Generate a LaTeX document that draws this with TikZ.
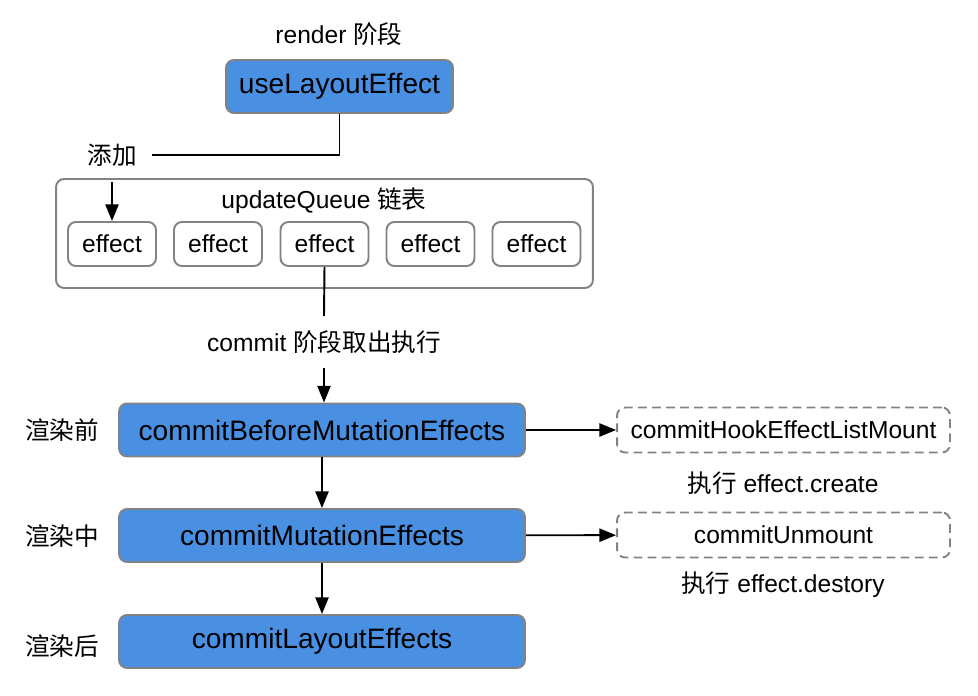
\documentclass[tikz,border=0pt]{standalone}
\usepackage{fontspec}
\setmainfont{Liberation Sans}
\newfontfamily\cjk{Noto Sans CJK SC}
\usetikzlibrary{arrows.meta}

\definecolor{stageblue}{HTML}{4A90E2}
\definecolor{edgegray}{HTML}{828282}

\begin{document}
\begin{tikzpicture}[x=0.02cm, y=-0.02cm,
    stagebox/.style={draw=edgegray, line width=1.1pt, fill=stageblue, rounded corners=0.16cm,
      inner sep=0pt, minimum height=1.06cm, font=\fontsize{16}{19}\selectfont},
    effectbox/.style={draw=edgegray, line width=1.1pt, rounded corners=0.16cm,
      inner sep=0pt, minimum width=1.76cm, minimum height=0.88cm, font=\fontsize{14}{16}\selectfont},
    hookbox/.style={draw=edgegray, dash pattern=on 5pt off 3pt, line width=1.1pt, rounded corners=0.16cm,
      inner sep=0pt, minimum width=6.66cm, minimum height=0.9cm, font=\fontsize{14}{16}\selectfont},
    plaintext/.style={font=\fontsize{14}{16}\selectfont},
    link/.style={line width=1.1pt, -{Triangle[length=9.5pt,width=7.5pt]}}]
  \useasboundingbox (0,0) rectangle (978,696);

  % render stage
  \node[plaintext] (render) at (339,34) {render {\cjk 阶段}};
  \node[stagebox, minimum width=4.54cm] (ule) at (339.5,86.5) {useLayoutEffect};
  \node[plaintext, inner sep=0.3cm] (add) at (112,155) {\cjk 添加};

  % update queue
  \node[draw=edgegray, line width=1.1pt, rounded corners=0.16cm, minimum width=10.74cm,
    minimum height=2.18cm] (queue) at (324.5,233.5) {};
  \node[plaintext] (qtitle) at (324,201) {updateQueue {\cjk 链表}};
  \node[effectbox] (e1) at (112,244) {effect};
  \node[effectbox] (e2) at (218,244) {effect};
  \node[effectbox] (e3) at (324.5,244) {effect};
  \node[effectbox] (e4) at (430.5,244) {effect};
  \node[effectbox] (e5) at (536.5,244) {effect};

  \draw[line width=1.1pt] (ule.south) |- (add.east);
  \draw[link] (add.south) -- (e1.north);

  % commit stage
  \node[plaintext, inner ysep=0.28cm] (commit) at (324,342) {commit {\cjk 阶段取出执行}};
  \draw[line width=1.1pt] (e3.south) -- (commit.north);

  \node[stagebox, minimum width=8.12cm] (cbm) at (322,430) {commitBeforeMutationEffects};
  \node[stagebox, minimum width=8.12cm] (cm) at (322,535.5) {commitMutationEffects};
  \node[stagebox, minimum width=8.12cm] (cl) at (322,641.5) {commitLayoutEffects};

  \node[plaintext] (before) at (62,430) {\cjk 渲染前};
  \node[plaintext] (during) at (62,536) {\cjk 渲染中};
  \node[plaintext] (after) at (62,646) {\cjk 渲染后};

  \draw[link] (commit.south) -- (commit.south |- cbm.north);
  \draw[link] (cbm) -- (cm);
  \draw[link] (cm) -- (cl);

  % hooks
  \node[hookbox] (mount) at (783.5,430) {commitHookEffectListMount};
  \node[hookbox] (unmount) at (783.5,535) {commitUnmount};
  \node[plaintext] (create) at (783,483) {{\cjk 执行} effect.create};
  \node[plaintext] (destroy) at (783,585) {{\cjk 执行} effect.destory};

  \draw[link] (cbm) -- (mount);
  \draw[link] (cm) -- (unmount);
\end{tikzpicture}
\end{document}
